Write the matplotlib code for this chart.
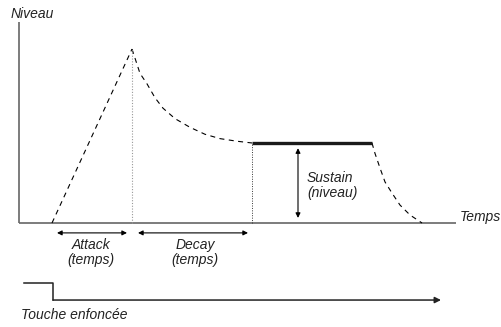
import matplotlib.pyplot as plt

# ADSR envelope (time in arbitrary units, level relative to peak = 1)
attack_t = [33, 113]
attack_lvl = [0.0, 1.0]

decay_t = [113, 121, 128, 136, 144, 156, 171, 186, 201, 218, 233]
decay_lvl = [1.0, 0.86, 0.80, 0.72, 0.66, 0.60, 0.55, 0.51, 0.485, 0.47, 0.46]

sustain_t = [233, 353]
sustain_lvl = [0.46, 0.46]

release_t = [353, 356, 361, 366, 373, 381, 391, 403]
release_lvl = [0.46, 0.40, 0.316, 0.236, 0.172, 0.103, 0.046, 0.0]

# key pressed signal
key_t = [5, 34, 34, 422]
key_lvl = [-0.345, -0.345, -0.443, -0.443]

plt.rcParams['font.family'] = ['Liberation Sans', 'DejaVu Sans']

fig = plt.figure(figsize=(5.02, 3.27), dpi=100)
ax = fig.add_axes([0, 0, 1, 1])
ax.set_xlim(-19, 483)
ax.set_ylim(-0.598, 1.282)
ax.axis('off')

axis_col = '#666666'
# axes
ax.plot([0, 0], [0, 1.155], color=axis_col, lw=1.2, solid_capstyle='butt')
ax.plot([0, 437], [0, 0], color=axis_col, lw=1.2, solid_capstyle='butt')

# envelope
dash = (4.5, 4)
ax.plot(attack_t, attack_lvl, color='black', lw=0.8, dashes=dash)
ax.plot(decay_t, decay_lvl, color='black', lw=0.8, dashes=dash)
ax.plot(release_t, release_lvl, color='black', lw=0.8, dashes=dash)
ax.plot(sustain_t, sustain_lvl, color='#1a1a1a', lw=2.4, solid_capstyle='butt')

# dotted guides
ax.plot([attack_t[-1], attack_t[-1]], [0, attack_lvl[-1]], color='#999999', lw=0.8, dashes=(1, 1.5))
ax.plot([decay_t[-1], decay_t[-1]], [0, decay_lvl[-1]], color='#333333', lw=0.7, dashes=(1, 1.5))

# key signal
ax.plot(key_t[:-1], key_lvl[:-1], color='#222222', lw=1.1)
ax.annotate('', xy=(key_t[-1], key_lvl[-1]), xytext=(key_t[-2], key_lvl[-2]),
            arrowprops=dict(arrowstyle='-|>', color='#222222', lw=1.1,
                            mutation_scale=9, shrinkA=0, shrinkB=0))

arrow = dict(arrowstyle='<|-|>', color='black', lw=0.8, mutation_scale=7,
             shrinkA=0, shrinkB=0)
ax.annotate('', xy=(38, -0.057), xytext=(108, -0.057), arrowprops=arrow)
ax.annotate('', xy=(119, -0.057), xytext=(229, -0.057), arrowprops=arrow)
ax.annotate('', xy=(279, 0.43), xytext=(279, 0.029), arrowprops=arrow)

fs = 10
txt = dict(fontsize=fs, style='italic', color='#222222')
ax.text(-8, 1.20, 'Niveau', ha='left', va='center', **txt)
ax.text(441, 0.034, 'Temps', ha='left', va='center', **txt)
ax.text(288, 0.213, 'Sustain\n(niveau)', ha='left', va='center', linespacing=1.1, **txt)
ax.text(72, -0.17, 'Attack\n(temps)', ha='center', va='center', linespacing=1.1, **txt)
ax.text(176, -0.17, 'Decay\n(temps)', ha='center', va='center', linespacing=1.1, **txt)
ax.text(2, -0.529, 'Touche enfoncée', ha='left', va='center', **txt)

fig.savefig('out.png', dpi=100)
